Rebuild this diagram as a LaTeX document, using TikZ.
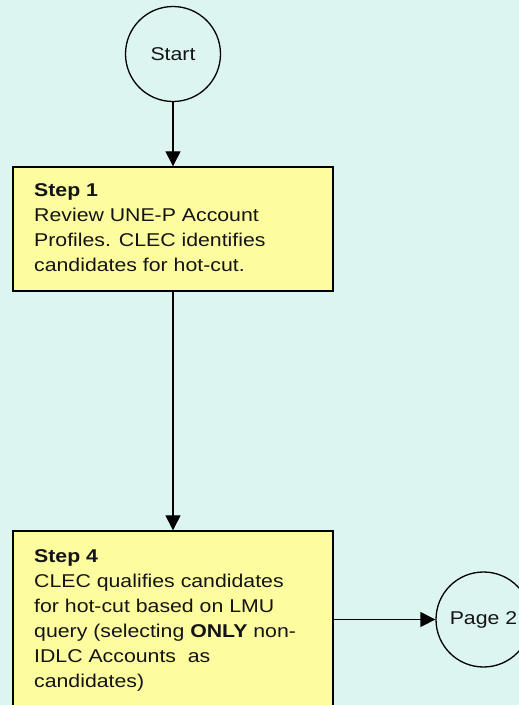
\documentclass[tikz,border=0pt]{standalone}
\usepackage{fontspec}
\setmainfont{Liberation Sans}
\newfontfamily\flowfont[FakeStretch=1.15]{Liberation Sans}
\usetikzlibrary{arrows.meta}
\definecolor{pagebg}{RGB}{221,245,241}
\definecolor{stepfill}{RGB}{253,253,160}
\tikzset{
  flowtext/.style={font={\flowfont\fontsize{18.5}{25}\selectfont}, text=black!92},
  terminal/.style={draw, circle, line width=1.3pt, minimum size=95pt, inner sep=0pt, flowtext},
  stepbox/.style={draw, rectangle, line width=1.4pt, fill=stepfill, inner sep=0pt},
  steptext/.style={flowtext, align=left, anchor=north west, inner sep=0pt},
  flowarrow/.style={line width=1.3pt, -{Triangle[width=15pt,length=15pt]}}
}
\begin{document}
\begin{tikzpicture}[x=1pt, y=-1pt]
  \useasboundingbox (0,0) rectangle (519,705);
  \clip (0,0) rectangle (519,705);
  \fill[pagebg] (0,0) rectangle (519,705);

  % terminals
  \node[terminal] (start) at (173,54) {Start};
  \node[terminal] (page2) at (483.5,619.5) {Page 2};

  % process steps
  \node[stepbox, minimum width=320pt, minimum height=124pt] (s1) at (173,229) {};
  \node[stepbox, minimum width=320pt, minimum height=200pt] (s4) at (173,631) {};

  \node[steptext] (s1text) at (34,183.3)
    {\textbf{Step 1}\\Review UNE-P Account\\Profiles. CLEC identifies\\candidates for hot-cut.};
  \node[steptext] (s4text) at (34,549.3)
    {\textbf{Step 4}\\CLEC qualifies candidates\\for hot-cut based on LMU\\query (selecting \textbf{ONLY} non-\\IDLC Accounts~ as\\candidates)};

  % connectors
  \draw[flowarrow] (start) -- (s1);
  \draw[flowarrow] (s1) -- (s4);
  \draw[flowarrow] (page2 -| s4.east) -- (page2);
\end{tikzpicture}
\end{document}
